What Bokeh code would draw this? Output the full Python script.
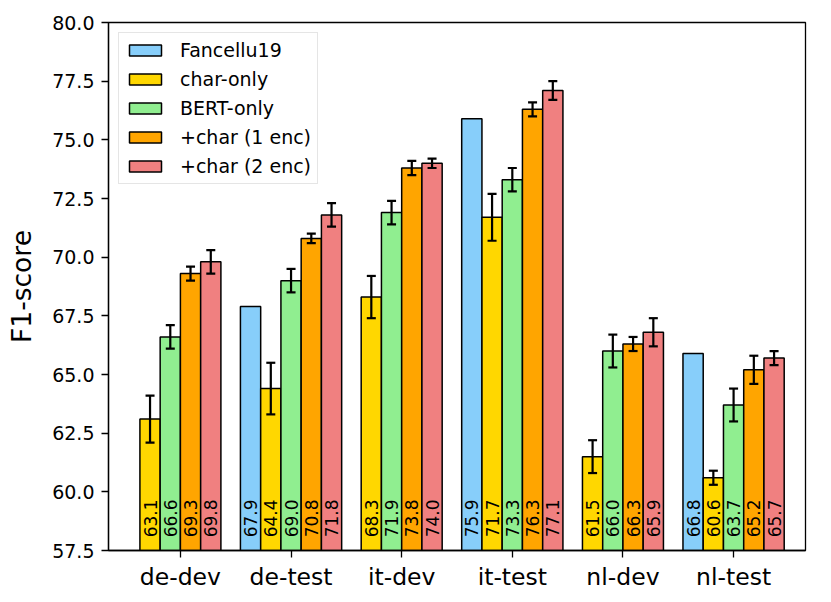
import math
from bokeh.plotting import figure
from bokeh.models import ColumnDataSource, Whisker, TeeHead, FixedTicker, NumeralTickFormatter, Range1d
from bokeh.core.properties import value
from bokeh.embed import file_html
from bokeh.resources import INLINE

# ---- data ----
categories = ["de-dev", "de-test", "it-dev", "it-test", "nl-dev", "nl-test"]
series_names = ["Fancellu19", "char-only", "BERT-only", "+char (1 enc)", "+char (2 enc)"]
series_colors = ["#87CEFA", "#FFD700", "#90EE90", "#FFA500", "#F08080"]

fancellu = [None, 67.9, None, 75.9, None, 65.9]
fancellu_label = [None, 67.9, None, 75.9, None, 66.8]
fancellu_err = [None, None, None, None, None, None]

char_only = [63.1, 64.4, 68.3, 71.7, 61.5, 60.6]
char_only_err = [1.0, 1.1, 0.9, 1.0, 0.7, 0.3]

bert_only = [66.6, 69.0, 71.9, 73.3, 66.0, 63.7]
bert_only_err = [0.5, 0.5, 0.5, 0.5, 0.7, 0.7]

char_1enc = [69.3, 70.8, 73.8, 76.3, 66.3, 65.2]
char_1enc_err = [0.3, 0.2, 0.3, 0.3, 0.3, 0.6]

char_2enc = [69.8, 71.8, 74.0, 77.1, 66.8, 65.7]
char_2enc_label = [69.8, 71.8, 74.0, 77.1, 65.9, 65.7]
char_2enc_err = [0.5, 0.5, 0.2, 0.4, 0.6, 0.3]

y_ticks = [57.5, 60.0, 62.5, 65.0, 67.5, 70.0, 72.5, 75.0, 77.5, 80.0]

series_values = [fancellu, char_only, bert_only, char_1enc, char_2enc]
series_labels = [fancellu_label, char_only, bert_only, char_1enc, char_2enc_label]
series_errs = [fancellu_err, char_only_err, bert_only_err, char_1enc_err, char_2enc_err]

BAR_W = 0.183
Y0, Y1 = 57.5, 80.0
FONT = "DejaVu Sans"

p = figure(frame_width=697, frame_height=528, output_backend="svg", toolbar_location=None,
           x_range=Range1d(-0.65, len(categories) - 1 + 0.65), y_range=Range1d(Y0, Y1),
           min_border_left=108, min_border_top=22, min_border_right=10, min_border_bottom=36)

# positions: bars in each group centered on the category tick
present = [[k for k in range(len(series_names)) if series_values[k][i] is not None]
           for i in range(len(categories))]

for k, name in enumerate(series_names):
    xs, tops, labs, ups, los, ex = [], [], [], [], [], []
    for i in range(len(categories)):
        v = series_values[k][i]
        if v is None:
            continue
        idx = present[i].index(k)
        n = len(present[i])
        x = i + (idx - (n - 1) / 2) * BAR_W
        xs.append(x)
        tops.append(v)
        labs.append("%.1f" % series_labels[k][i])
        e = series_errs[k][i]
        if e is not None:
            ex.append(x); ups.append(v + e); los.append(v - e)
    src = ColumnDataSource(dict(x=xs, top=tops, lab=labs, ly=[Y0 + 0.56] * len(xs)))
    p.vbar(x="x", top="top", bottom=0, width=BAR_W, source=src, fill_color=series_colors[k],
           line_color="black", line_width=1.5, legend_label=name)
    if ex:
        esrc = ColumnDataSource(dict(x=ex, upper=ups, lower=los))
        w = Whisker(base="x", upper="upper", lower="lower", source=esrc, dimension="height",
                    line_color="black", line_width=2.2, level="overlay",
                    upper_head=TeeHead(size=9, line_color="black", line_width=2.2),
                    lower_head=TeeHead(size=9, line_color="black", line_width=2.2))
        p.add_layout(w)
    p.text(x="x", y="ly", text="lab", source=src, angle=math.pi / 2, text_align="left",
           text_baseline="middle", text_font=value(FONT), text_font_size="17px", text_color="black")

# axes
p.xaxis.ticker = FixedTicker(ticks=list(range(len(categories))))
p.xaxis.major_label_overrides = {i: c for i, c in enumerate(categories)}
p.yaxis.ticker = FixedTicker(ticks=y_ticks)
p.yaxis.formatter = NumeralTickFormatter(format="0.0")
p.yaxis.axis_label = "F1-score"
for ax in (p.xaxis[0], p.yaxis[0]):
    ax.major_label_text_font = FONT
    ax.axis_label_text_font = FONT
    ax.axis_label_text_font_style = "normal"
    ax.minor_tick_line_color = None
    ax.major_tick_in = 0
    ax.major_tick_out = 7
    ax.major_tick_line_width = 1.3
    ax.axis_line_width = 1.3
    ax.major_label_text_color = "black"
    ax.axis_label_text_color = "black"
    ax.axis_line_color = "black"
    ax.major_tick_line_color = "black"
p.yaxis.major_label_text_font_size = "19px"
p.yaxis.major_label_standoff = 7
p.yaxis.axis_label_text_font_size = "26.5px"
p.yaxis.axis_label_standoff = 12
p.xaxis.major_label_text_font_size = "23.5px"
p.xaxis.major_label_standoff = 5

p.xgrid.grid_line_color = None
p.ygrid.grid_line_color = None
p.outline_line_color = "black"
p.outline_line_width = 1.3
p.background_fill_color = "white"
p.border_fill_color = "white"

lg = p.legend[0]
lg.location = "top_left"
lg.margin = 10
lg.padding = 6
lg.spacing = 7
lg.glyph_width = 40
lg.glyph_height = 14
lg.label_height = 22
lg.label_standoff = 15
lg.label_text_font = FONT
lg.label_text_font_size = "19px"
lg.label_text_color = "black"
lg.border_line_color = "#cccccc"
lg.border_line_width = 1
lg.background_fill_alpha = 0.8

open("out.html", "w").write(file_html(p, INLINE))
